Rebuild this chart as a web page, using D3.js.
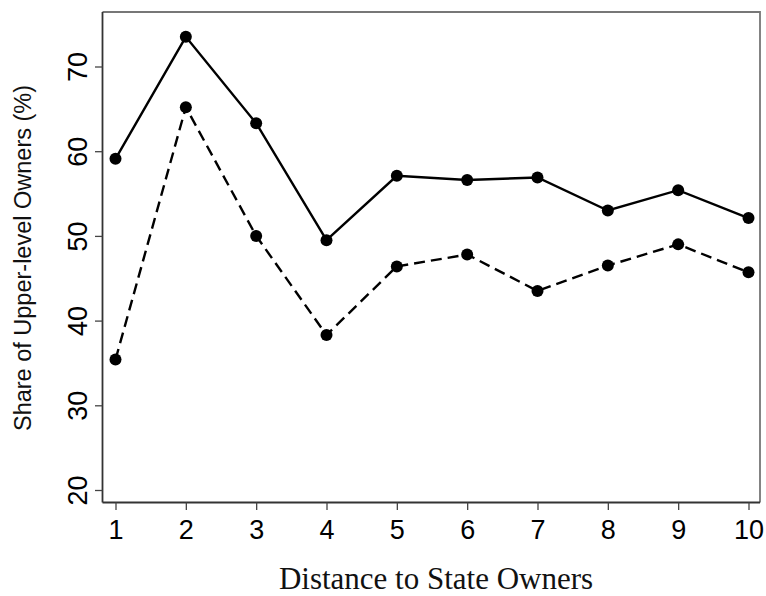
<!DOCTYPE html>
<html>
<head>
<meta charset="utf-8">
<script src="https://cdn.jsdelivr.net/npm/d3@7"></script>
<style>
  body { margin: 0; background: #fff; }
  .tick text { font-family: "Liberation Sans", Arial, sans-serif; }
</style>
</head>
<body>
<svg id="chart" width="766" height="596"></svg>
<script>
// distance to state owners (x) and the two series (%)
const distance = [1, 2, 3, 4, 5, 6, 7, 8, 9, 10]
const solidSeries = [59.1, 73.5, 63.3, 49.5, 57.1, 56.6, 56.9, 53.0, 55.4, 52.1]
const dashedSeries = [35.4, 65.2, 50.0, 38.3, 46.4, 47.8, 43.5, 46.5, 49.0, 45.7]
const yTicks = [20, 30, 40, 50, 60, 70]

const svg = d3.select("#chart")

// plot frame
const frame = { left: 102.5, right: 760, top: 12, bottom: 502.5 }

const xScale = d3.scaleLinear().domain([1, 10]).range([115.5, 748.5])
const yScale = d3.scaleLinear().domain([20, 70]).range([490, 66.5])

// top + right border, lighter grey
svg.append("path")
  .attr("d", `M${frame.left},${frame.top}H${frame.right}V${frame.bottom}`)
  .attr("fill", "none")
  .attr("stroke", "#777")
  .attr("stroke-width", 1.8)

// axes
const xAxis = d3.axisBottom(xScale).tickValues(distance).tickSize(7.5).tickPadding(10)
const yAxis = d3.axisLeft(yScale).tickValues(yTicks).tickSize(7.5)

const gx = svg.append("g")
  .attr("transform", "translate(0," + frame.bottom + ")")
  .call(xAxis)
gx.select(".domain").attr("d", `M${frame.left},0H${frame.right}`)

const gy = svg.append("g")
  .attr("transform", "translate(" + frame.left + ",0)")
  .call(yAxis)
gy.select(".domain").attr("d", `M0,${frame.top}V${frame.bottom}`)

svg.selectAll(".domain").attr("stroke", "#333").attr("stroke-width", 1.8)
svg.selectAll(".tick line").attr("stroke", "#444").attr("stroke-width", 1.3)
svg.selectAll(".tick text").attr("fill", "#000").attr("font-size", 27)

// rotate the y tick labels (read bottom to top)
gy.selectAll(".tick text")
  .attr("x", null).attr("dy", null)
  .attr("text-anchor", "middle")
  .attr("transform", "translate(-16,0) rotate(-90)")

// lines
const line = d3.line()
  .x((d, i) => xScale(distance[i]))
  .y(d => yScale(d))

svg.append("path")
  .datum(dashedSeries)
  .attr("d", line)
  .attr("fill", "none")
  .attr("stroke", "#000")
  .attr("stroke-width", 2.4)
  .attr("stroke-dasharray", "11,6")

svg.append("path")
  .datum(solidSeries)
  .attr("d", line)
  .attr("fill", "none")
  .attr("stroke", "#000")
  .attr("stroke-width", 2.4)

// markers
;[solidSeries, dashedSeries].forEach(s => {
  svg.append("g").selectAll("circle")
    .data(s)
    .join("circle")
    .attr("cx", (d, i) => xScale(distance[i]))
    .attr("cy", d => yScale(d))
    .attr("r", 6)
    .attr("fill", "#000")
})

// axis titles
svg.append("text")
  .attr("transform", "translate(31,258) rotate(-90)")
  .attr("text-anchor", "middle")
  .attr("font-family", "Liberation Sans, Arial, sans-serif")
  .attr("font-size", 23.5)
  .attr("fill", "#111")
  .text("Share of Upper-level Owners (%)")

svg.append("text")
  .attr("x", 436)
  .attr("y", 589)
  .attr("text-anchor", "middle")
  .attr("font-family", "Liberation Serif, Times New Roman, serif")
  .attr("font-size", 31)
  .attr("fill", "#111")
  .text("Distance to State Owners")
</script>
</body>
</html>
